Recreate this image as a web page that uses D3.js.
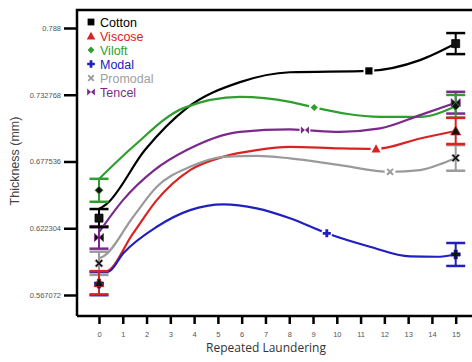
<!DOCTYPE html>
<html><head><meta charset="utf-8">
<script src="https://cdn.jsdelivr.net/npm/d3@7"></script>
<style>html,body{margin:0;padding:0;background:#fff;overflow:hidden}</style>
</head><body><svg id="c" width="472" height="362"></svg>
<script>
// ---- data ----
const seriesNames = ["Cotton","Viscose","Viloft","Modal","Promodal","Tencel"];
const seriesColors = ["#000000","#d92323","#2e9e2e","#2020c0","#9a9a9a","#7b2a8c"];
const seriesShapes = ["square","triangle","diamond","plus","cross","bowtie"];
const xTicks = [0,1,2,3,4,5,6,7,8,9,10,11,12,13,14,15];
const yTicks = [0.567072,0.622304,0.677536,0.732768,0.788];
const yTickLabels = ["0.567072","0.622304","0.677536","0.732768","0.788"];
// measured means and errors at 0 and 15 launderings
const startValues = [0.6307,0.5772,0.6537,0.5765,0.5933,0.6147];
const startErrors = [0.0075,0.0096,0.0095,0.0096,0.0096,0.0093];
const endValues   = [0.7751,0.7028,0.7232,0.6006,0.6805,0.7262];
const endErrors   = [0.0087,0.0108,0.0094,0.0095,0.0106,0.0090];
// fitted curve samples [x, thickness]
const curveCotton   = [[0,0.6382],[0.3,0.6420],[1.93,0.6870],[3.69,0.7217],[5.93,0.7432],[8.03,0.7514],[11.35,0.7525],[13.5,0.7614],[15,0.7751]];
const curveViscose  = [[0,0.5863],[0.25,0.5862],[1.44,0.6183],[2.43,0.6456],[3.83,0.6704],[5.21,0.6814],[6.63,0.6870],[8.03,0.6897],[10.13,0.6884],[11.65,0.6880],[13.5,0.6966],[15,0.7028]];
const curveViloft   = [[0,0.6630],[1.43,0.6897],[3.55,0.7217],[5.93,0.7310],[8.03,0.7269],[9.05,0.7222],[11.82,0.7145],[13.5,0.7145],[15,0.7232]];
const curveModal    = [[0,0.5863],[0.39,0.5864],[1.02,0.6016],[2.43,0.6235],[3.83,0.6373],[5.23,0.6421],[6.63,0.6388],[8.03,0.6306],[9.58,0.6181],[11.39,0.6070],[13.08,0.5990],[14.2,0.5987],[15,0.6006]];
const curvePromodal = [[0,0.5975],[0.18,0.5990],[1.44,0.6318],[2.43,0.6566],[3.83,0.6731],[5.23,0.6814],[6.63,0.6822],[8.03,0.6801],[10.13,0.6745],[12.24,0.6690],[13.5,0.6704],[14.47,0.6762],[15,0.6805]];
const curveTencel   = [[0,0.6190],[1.01,0.6456],[2.3,0.6700],[3.69,0.6870],[5.93,0.7021],[8.03,0.7041],[8.66,0.7035],[10.13,0.7021],[11.82,0.7049],[13.5,0.7159],[15,0.7262]];
const curves = [curveCotton,curveViscose,curveViloft,curveModal,curvePromodal,curveTencel];
// position of the marker drawn on each curve
const midMarkers = [[11.35,0.7525],[11.65,0.6880],[9.05,0.7222],[9.58,0.6181],[12.24,0.6690],[8.66,0.7035]];

// ---- chart ----
const svg = d3.select("#c");
const x = d3.scaleLinear().domain([0,15]).range([99,455.7]);
const y = d3.scaleLinear().domain([0.54969,0.80289]).range([316,10]);
const frameLeft = 77, frameTop = 10, frameBottom = 316;

function shapePath(s){
  switch(s){
    case "square": return "M-4,-4H4V4H-4Z";
    case "triangle": return "M0,-5L5,4H-5Z";
    case "diamond": return "M0,-4L4,0L0,4L-4,0Z";
    case "plus": return "M-1.6,-4.5H1.6V-1.6H4.5V1.6H1.6V4.5H-1.6V1.6H-4.5V-1.6H-1.6Z";
    case "cross": return "M-4,-2.5L-2.5,-4L0,-1.5L2.5,-4L4,-2.5L1.5,0L4,2.5L2.5,4L0,1.5L-2.5,4L-4,2.5L-1.5,0Z";
    case "bowtie": return "M-4.5,-4L0,0L-4.5,4ZM4.5,-4L0,0L4.5,4Z";
  }
}

// frame
svg.append("path").attr("d",`M${frameLeft},${frameBottom}V${frameTop}H480`).attr("fill","none").attr("stroke","#000").attr("stroke-width",2.5);
svg.append("line").attr("x1",frameLeft).attr("x2",480).attr("y1",frameBottom).attr("y2",frameBottom).attr("stroke","#000").attr("stroke-width",2.5);

// axes
const yAxis = d3.axisLeft(y).tickValues(yTicks).tickFormat((d,i)=>yTickLabels[i]).tickSize(13).tickPadding(3);
const gy = svg.append("g").attr("transform",`translate(${frameLeft},0)`).call(yAxis);
gy.select(".domain").remove();
gy.selectAll(".tick line").attr("stroke","#000").attr("stroke-width",2.5);
gy.selectAll("text").attr("font-family","Liberation Sans, Arial, sans-serif").attr("font-size",7.5).attr("fill","#555");

const xAxis = d3.axisBottom(x).tickValues(xTicks).tickFormat(d3.format("d")).tickSize(8).tickPadding(8);
const gx = svg.append("g").attr("transform",`translate(0,${frameBottom})`).call(xAxis);
gx.select(".domain").remove();
gx.selectAll(".tick line").attr("stroke","#000").attr("stroke-width",2.5);
gx.selectAll("text").attr("font-family","Liberation Sans, Arial, sans-serif").attr("font-size",7.5).attr("fill","#555");

svg.append("text").attr("x",266).attr("y",352).attr("text-anchor","middle")
  .attr("font-family","Open Sans, sans-serif").attr("font-size",12).attr("fill","#333").text("Repeated Laundering");
svg.append("text").attr("transform","translate(19,161) rotate(-90)").attr("text-anchor","middle")
  .attr("font-family","Liberation Sans, Arial, sans-serif").attr("font-size",12.5).attr("fill","#444").text("Thickness (mm)");

// curves
const line = d3.line().x(d=>x(d[0])).y(d=>y(d[1])).curve(d3.curveMonotoneX);
curves.forEach((c,i)=>{
  svg.append("path").attr("d",line(c)).attr("fill","none").attr("stroke",seriesColors[i]).attr("stroke-width",2.2);
});

// error bars at 0 and 15
const drawOrder = [5,4,2,0,3,1];
drawOrder.forEach(i=>{
  [[0,startValues[i],startErrors[i]],[15,endValues[i],endErrors[i]]].forEach(([xv,v,e])=>{
    const g = svg.append("g").attr("stroke",seriesColors[i]).attr("stroke-width",2.5);
    g.append("line").attr("x1",x(xv)).attr("x2",x(xv)).attr("y1",y(v-e)).attr("y2",y(v+e)).attr("stroke-width",2);
    g.append("line").attr("x1",x(xv)-9.5).attr("x2",x(xv)+9.5).attr("y1",y(v-e)).attr("y2",y(v-e));
    g.append("line").attr("x1",x(xv)-9.5).attr("x2",x(xv)+9.5).attr("y1",y(v+e)).attr("y2",y(v+e));
  });
});
// endpoint markers (dark)
drawOrder.forEach(i=>{
  [[0,startValues[i]],[15,endValues[i]]].forEach(([xv,v])=>{
    svg.append("path").attr("d",shapePath(seriesShapes[i])).attr("transform",`translate(${x(xv)},${y(v)})`)
      .attr("fill","#111").attr("stroke",seriesColors[i]).attr("stroke-width",0.8);
  });
});
// mid-curve markers with gap
midMarkers.forEach((m,i)=>{
  svg.append("circle").attr("cx",x(m[0])).attr("cy",y(m[1])).attr("r",5.5).attr("fill","#fff");
  svg.append("path").attr("d",shapePath(seriesShapes[i])).attr("transform",`translate(${x(m[0])},${y(m[1])}) scale(0.9)`)
    .attr("fill",seriesColors[i]);
});

// legend
const legendY = [22,36,50,64,78,92];
seriesNames.forEach((n,i)=>{
  svg.append("path").attr("d",shapePath(seriesShapes[i])).attr("transform",`translate(91,${legendY[i]}) scale(0.85)`)
    .attr("fill",i===0?"#000":seriesColors[i]);
  svg.append("text").attr("x",100).attr("y",legendY[i]+4.5).attr("font-family","Liberation Sans, Arial, sans-serif")
    .attr("font-size",12.5).attr("fill",seriesColors[i]===("#9a9a9a")?"#a0a0a0":seriesColors[i]).text(n);
});
</script></body></html>
